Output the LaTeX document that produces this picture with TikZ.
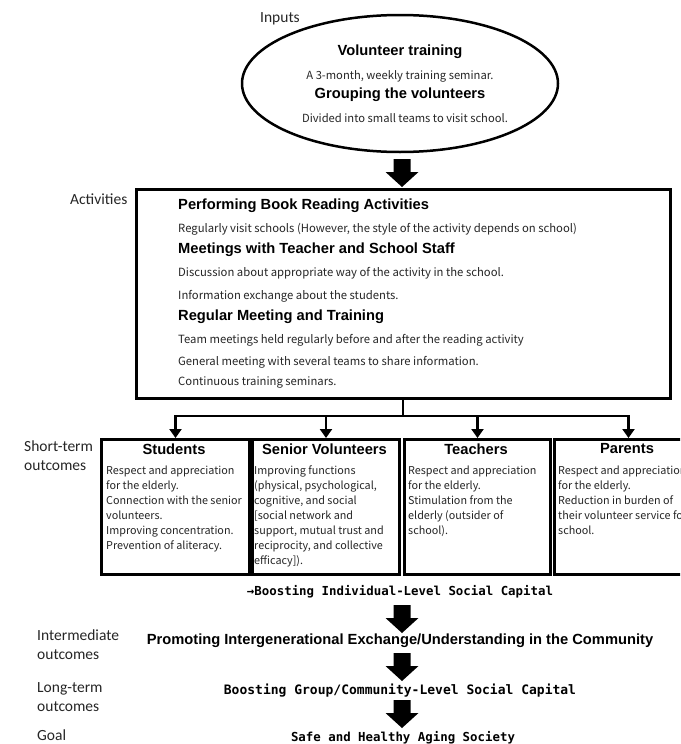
\documentclass[tikz,border=0pt]{standalone}
\usepackage{fontspec}
\setmainfont{Liberation Sans}
\newfontfamily\labfont{Carlito}
\newfontfamily\jpfont{Noto Sans CJK JP}
\newfontfamily\gmono{DejaVu Sans Mono}
\usetikzlibrary{shapes.geometric,arrows.meta}
\tikzset{
  lab/.style={font=\labfont\fontsize{15.5}{19}\selectfont, anchor=west, inner sep=0, align=left, text=black!85},
  hd/.style={font=\bfseries\fontsize{14.7}{17}\selectfont, inner sep=0},
  sm/.style={font=\jpfont\fontsize{11.3}{15}\selectfont, inner sep=0, text=black!85},
  sme/.style={sm, font=\jpfont\fontsize{11.2}{15}\selectfont},
  smb/.style={sm, font=\jpfont\fontsize{10.8}{15}\selectfont, align=left, anchor=north west},
  gb/.style={font=\gmono\bfseries\fontsize{13}{16}\selectfont, inner sep=0},
  gbs/.style={font=\gmono\bfseries\fontsize{12.4}{16}\selectfont, inner sep=0},
  frame/.style={draw, line width=3pt},
  obox/.style={frame, minimum width=147, minimum height=135, anchor=north west, inner sep=0},
  conn/.style={line width=2.8pt},
  tip/.style={-{Triangle[width=12pt,length=9pt]}},
  pics/barrow/.style={code={\fill (-8.5,0) -- (8.5,0) -- (8.5,13) -- (16.5,13) -- (0,28) -- (-16.5,13) -- (-8.5,13) -- cycle;}},
}
\begin{document}
\begin{tikzpicture}[x=1pt,y=-1pt]
\useasboundingbox (0,0) rectangle (680,744);
\clip (0,0) rectangle (680,744);
\fill[white] (0,0) rectangle (680,744);

% Inputs
\node[lab] (linputs) at (260,19) {Inputs};
\node[ellipse, draw, line width=2.5pt, minimum width=316, minimum height=137, inner sep=0] (ell) at (400,83.5) {};
\node[hd] (vt) at (400,52) {Volunteer training};
\node[sme] (vt1) at (400,76) {A 3-month, weekly training seminar.};
\node[hd] (gv) at (400,95) {Grouping the volunteers};
\node[sme] (gv1) at (405,118) {Divided into small teams to visit school.};

\pic at (402,159) {barrow};

% Activities
\node[lab] (lact) at (70,199) {Activities};
\node[frame, minimum width=534, minimum height=209, inner sep=0] (act) at (403,293.5) {};
\node[hd, anchor=west] (a1) at (178,206) {Performing Book Reading Activities};
\node[sm, anchor=west] (a2) at (178,229) {Regularly visit schools (However, the style of the activity depends on school)};
\node[hd, anchor=west] (a3) at (178,250) {Meetings with Teacher and School Staff};
\node[sm, anchor=west] (a4) at (178,273) {Discussion about appropriate way of the activity in the school.};
\node[sm, anchor=west] (a5) at (178,296) {Information exchange about the students.};
\node[hd, anchor=west] (a6) at (178,317) {Regular Meeting and Training};
\node[sm, anchor=west] (a7) at (178,340) {Team meetings held regularly before and after the reading activity};
\node[sm, anchor=west] (a8) at (178,362) {General meeting with several teams to share information.};
\node[sm, anchor=west] (a9) at (178,383) {Continuous training seminars.};

% Short-term outcomes
\node[lab] (lshort) at (24,456) {Short-term\\outcomes};
\node[obox, minimum width=148] (stu) at (100,438) {};
\node[obox] (sen) at (251,438) {};
\node[obox, minimum width=146] (tea) at (403,438) {};
\node[obox, minimum width=148] (par) at (553,438) {};

\node[hd] (stuh) at (174,449) {Students};
\node[hd] (senh) at (324.5,449) {Senior Volunteers};
\node[hd] (teah) at (476,449) {Teachers};
\node[hd] (parh) at (627,449) {Parents};

\node[smb] (stut) at (106,465.5) {Respect and appreciation\\for the elderly.\\Connection with the senior\\volunteers.\\Improving concentration.\\Prevention of aliteracy.};
\node[smb] (sent) at (254,465.5) {Improving functions\\(physical, psychological,\\cognitive, and social\\{[}social network and\\support, mutual trust and\\reciprocity, and collective\\efficacy{]}).};
\node[smb] (teat) at (408,465.5) {Respect and appreciation\\for the elderly.\\Stimulation from the\\elderly (outsider of\\school).};
\node[smb] (part) at (558,465.5) {Respect and appreciation\\for the elderly.\\Reduction in burden of\\their volunteer service for\\school.};

% connectors
\coordinate (hub) at (403,416);
\draw[conn] (act.south) -- (hub);
\draw[conn, line cap=rect] (stu.north |- hub) -- (par.north |- hub);
\draw[conn, tip] (stu.north |- hub) -- (stu.north);
\draw[conn, tip] (sen.north |- hub) -- (sen.north);
\draw[conn, tip] (tea.north |- hub) -- (tea.north);
\draw[conn, tip] (par.north |- hub) -- (par.north);

% bottom chain
\node[gbs] (bind) at (400,592) {→Boosting Individual-Level Social Capital};
\pic at (402,605) {barrow};
\node[lab] (linter) at (37,645) {Intermediate\\outcomes};
\node[hd] (prom) at (400,641) {Promoting Intergenerational Exchange/Understanding in the Community};
\pic at (402,653) {barrow};
\node[lab] (llong) at (37,697) {Long-term\\outcomes};
\node[gb] (bgrp) at (400,691) {Boosting Group/Community-Level Social Capital};
\pic at (402,700) {barrow};
\node[lab] (lgoal) at (37,735.5) {Goal};
\node[gbs] (safe) at (403,738) {Safe and Healthy Aging Society};
\end{tikzpicture}
\end{document}
